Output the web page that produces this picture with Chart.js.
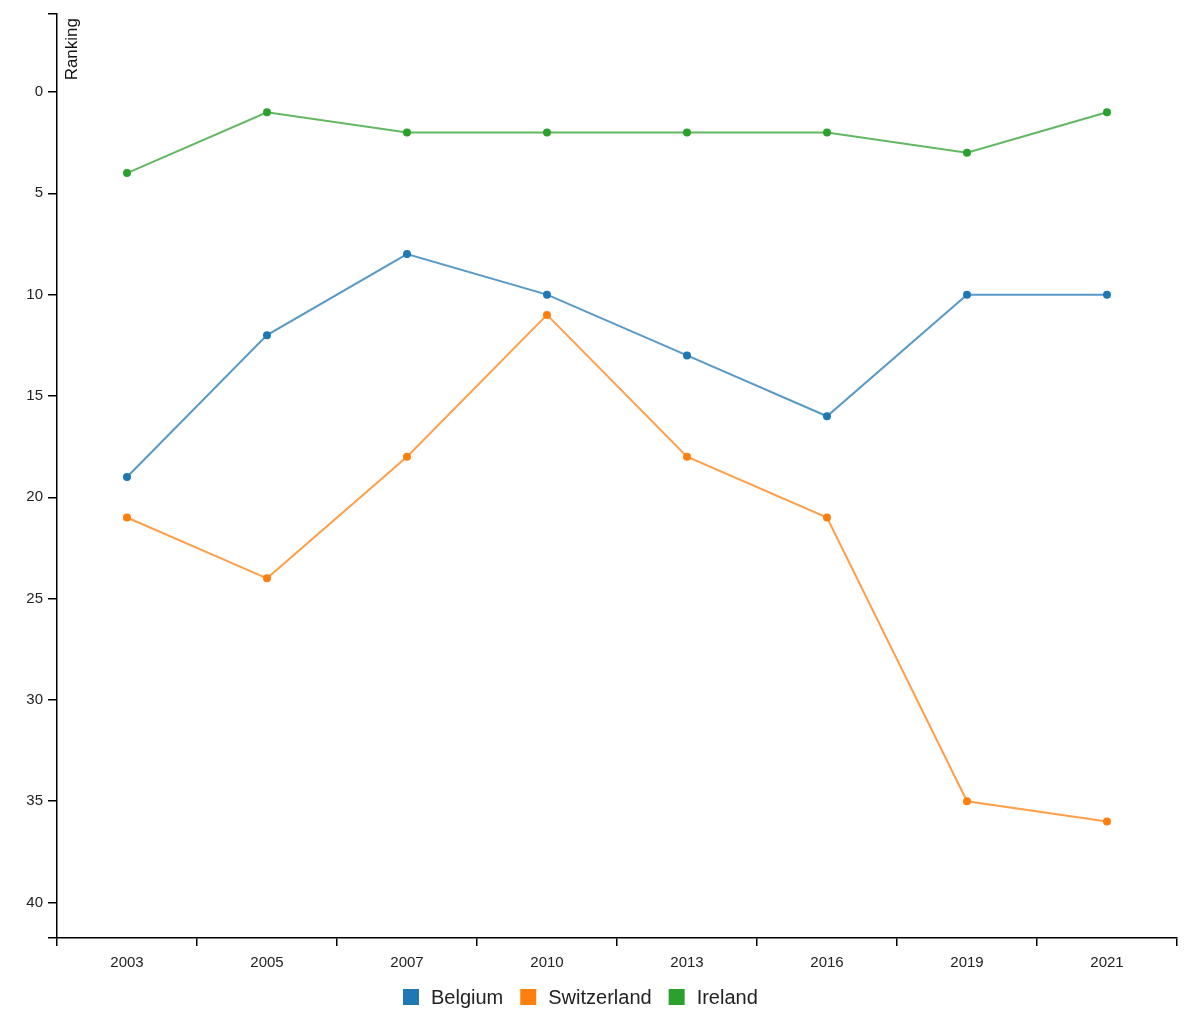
<!DOCTYPE html>
<html>
<head>
<meta charset="utf-8">
<script src="https://cdn.jsdelivr.net/npm/chart.js@4/dist/chart.umd.min.js"></script>
<style>
  html, body { margin: 0; padding: 0; background: #fff; }
  #wrap { width: 1200px; height: 1020px; position: relative; }
</style>
</head>
<body>
<div id="wrap"><canvas id="c" width="1200" height="1020"></canvas></div>
<script>
const years = ['2003', '2005', '2007', '2010', '2013', '2016', '2019', '2021'];
const belgium = [19, 12, 8, 10, 13, 16, 10, 10];
const switzerland = [21, 24, 18, 11, 18, 21, 35, 36];
const ireland = [4, 1, 2, 2, 2, 2, 3, 1];
const seriesNames = ['Belgium', 'Switzerland', 'Ireland'];
const seriesColors = ['#1f77b4', '#ff7f0e', '#2ca02c'];
const lineColors = ['rgba(31,119,180,0.75)', 'rgba(255,127,14,0.75)', 'rgba(44,160,44,0.75)'];
const yTickValues = [0, 5, 10, 15, 20, 25, 30, 35, 40];
const yMin = -3.85, yMax = 41.75;
const yTitle = 'Ranking';

const FONT = '"Liberation Sans", Arial, sans-serif';

const titlePlugin = {
  id: 'yTitle',
  afterDraw(chart) {
    const ctx = chart.ctx;
    ctx.save();
    ctx.translate(77, 18);
    ctx.rotate(-Math.PI / 2);
    ctx.font = '17px ' + FONT;
    ctx.fillStyle = '#111';
    ctx.textAlign = 'right';
    ctx.textBaseline = 'alphabetic';
    ctx.fillText(yTitle, 0, 0);
    ctx.restore();
  }
};

const legendPlugin = {
  id: 'customLegend',
  afterDraw(chart) {
    const ctx = chart.ctx;
    ctx.save();
    ctx.font = '20px ' + FONT;
    ctx.textBaseline = 'middle';
    ctx.textAlign = 'left';
    let x = 403;
    const yc = 997;
    chart.data.datasets.forEach((ds) => {
      ctx.fillStyle = ds.pointBackgroundColor;
      ctx.fillRect(x, yc - 8, 16, 16);
      x += 16 + 12;
      ctx.fillStyle = '#222';
      ctx.fillText(ds.label, x, yc + 1);
      x += ctx.measureText(ds.label).width + 17;
    });
    ctx.restore();
  }
};

const dataArrays = [belgium, switzerland, ireland];

new Chart(document.getElementById('c'), {
  type: 'line',
  data: {
    labels: years,
    datasets: dataArrays.map((arr, i) => ({
      label: seriesNames[i],
      data: arr,
      borderColor: lineColors[i],
      backgroundColor: seriesColors[i],
      pointBackgroundColor: seriesColors[i],
      pointBorderColor: seriesColors[i],
      pointRadius: 4,
      pointBorderWidth: 0,
      borderWidth: 2,
      tension: 0,
      fill: false
    }))
  },
  options: {
    responsive: false,
    animation: false,
    layout: { padding: { top: 12, right: 23, left: 0, bottom: 0 } },
    plugins: {
      legend: { display: false },
      tooltip: { enabled: false }
    },
    scales: {
      x: {
        type: 'category',
        offset: true,
        grid: {
          offset: true,
          drawOnChartArea: false,
          drawTicks: true,
          tickLength: 8,
          color: '#000',
          lineWidth: 1.5
        },
        border: { display: true, color: '#000', width: 1.5 },
        ticks: {
          color: '#222',
          font: { family: FONT, size: 15 },
          padding: 8,
          maxRotation: 0
        },
        afterFit(scale) { scale.height = 82; }
      },
      y: {
        type: 'linear',
        reverse: true,
        min: yMin,
        max: yMax,
        grid: {
          drawOnChartArea: false,
          drawTicks: true,
          tickLength: 9,
          color: '#000',
          lineWidth: 1.5
        },
        border: { display: true, color: '#000', width: 1.5 },
        ticks: {
          color: '#222',
          font: { family: FONT, size: 15 },
          padding: 5,
          callback(v) { return yTickValues.includes(v) ? String(v) : ''; }
        },
        afterBuildTicks(scale) {
          scale.ticks = [yMin].concat(yTickValues, [yMax]).map(v => ({ value: v }));
        },
        afterFit(scale) { scale.width = 57; }
      }
    }
  },
  plugins: [titlePlugin, legendPlugin]
});
</script>
</body>
</html>
